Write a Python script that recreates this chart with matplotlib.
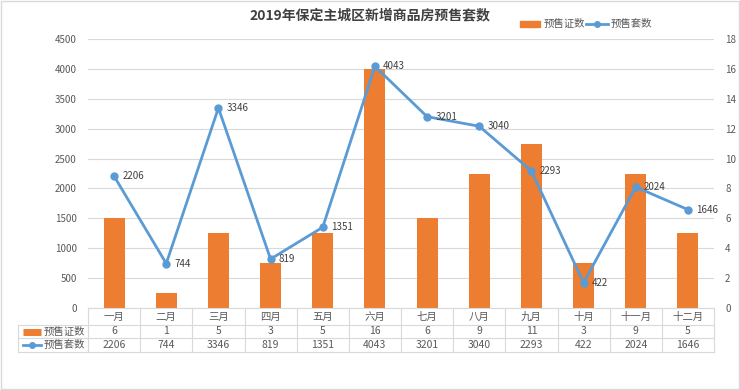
import matplotlib.pyplot as plt
import matplotlib.transforms as mtransforms

plt.rcParams['font.family'] = ['Noto Sans CJK SC', 'DejaVu Sans']

# 数据
months = ["一月", "二月", "三月", "四月", "五月", "六月", "七月", "八月", "九月", "十月", "十一月", "十二月"]
permits = [6, 1, 5, 3, 5, 16, 6, 9, 11, 3, 9, 5]
units = [2206, 744, 3346, 819, 1351, 4043, 3201, 3040, 2293, 422, 2024, 1646]

bar_color = "#ED7D31"
line_color = "#5B9BD5"
grid_color = "#D9D9D9"
text_color = "#595959"

fig = plt.figure(figsize=(7.4, 3.9), dpi=100)
ax = fig.add_axes([88 / 740, 1 - 308 / 390, 626 / 740, 269 / 390])
ax2 = ax.twinx()

x = list(range(len(months)))

# 柱：预售证数（右轴）
ax2.bar(x, permits, width=0.4, color=bar_color, zorder=2)
ax2.set_ylim(0, 18)
ax2.set_yticks(range(0, 19, 2))

# 线：预售套数（左轴）
ax.set_zorder(ax2.get_zorder() + 1)
ax.patch.set_visible(False)
ax.plot(x, units, color=line_color, lw=2, marker="o", ms=5, zorder=3)
for xi, v in zip(x, units):
    ax.annotate(str(v), (xi, v), xytext=(6, 0), textcoords="offset points",
                va="center", ha="left", fontsize=7, color="#404040")
ax.set_ylim(0, 4500)
ax.set_yticks(range(0, 4501, 500))
ax.set_xlim(-0.5, len(months) - 0.5)
ax.set_xticks([])

for a in (ax, ax2):
    for s in a.spines.values():
        s.set_visible(False)
    a.tick_params(length=0, labelsize=7, colors=text_color, pad=8)
ax2.set_xticks([])
ax2.set_xlim(-0.5, len(months) - 0.5)
ax2.yaxis.grid(True, color=grid_color, lw=0.8, zorder=0)
ax2.set_axisbelow(True)

# 数据表
tr = mtransforms.blended_transform_factory(ax.transData, ax.transAxes)
y0, y1, y2, y3 = 0.0, -17 / 269, -30 / 269, -44 / 269
xl = -1.842
lkw = dict(color=grid_color, lw=0.8, transform=tr, clip_on=False)
ax.plot([-0.5, 11.5], [y0, y0], **lkw)
ax.plot([xl, 11.5], [y1, y1], **lkw)
ax.plot([xl, 11.5], [y2, y2], **lkw)
ax.plot([xl, 11.5], [y3, y3], **lkw)
ax.plot([xl, xl], [y1, y3], **lkw)
for i in range(len(months) + 1):
    ax.plot([i - 0.5, i - 0.5], [y0, y3], **lkw)
for i, m in enumerate(months):
    ax.text(i, (y0 + y1) / 2, m, transform=tr, ha="center", va="center",
            fontsize=7.5, color=text_color, clip_on=False)
    ax.text(i, (y1 + y2) / 2, str(permits[i]), transform=tr, ha="center", va="center",
            fontsize=7.5, color=text_color, clip_on=False)
    ax.text(i, (y2 + y3) / 2, str(units[i]), transform=tr, ha="center", va="center",
            fontsize=7.5, color=text_color, clip_on=False)

# 表格图例
ax.plot([xl + 0.1, xl + 0.45], [(y1 + y2) / 2] * 2, color=bar_color, lw=5,
        solid_capstyle="butt", transform=tr, clip_on=False)
ax.plot([xl + 0.1, xl + 0.45], [(y2 + y3) / 2] * 2, color=line_color, lw=2,
        transform=tr, clip_on=False)
ax.plot([xl + 0.275], [(y2 + y3) / 2], color=line_color, marker="o", ms=4,
        transform=tr, clip_on=False)
ax.text(xl + 0.5, (y1 + y2) / 2, "预售证数", transform=tr, ha="left", va="center",
        fontsize=7.5, color=text_color, clip_on=False)
ax.text(xl + 0.5, (y2 + y3) / 2, "预售套数", transform=tr, ha="left", va="center",
        fontsize=7.5, color=text_color, clip_on=False)

# 标题和图例
fig.text(0.5, 1 - 15 / 390, "2019年保定主城区新增商品房预售套数", ha="center", va="center",
         fontsize=10, fontweight="bold", color="#404040")
fig.patches.append(plt.Rectangle((520 / 740, 1 - 27 / 390), 20 / 740, 6 / 390,
                                 color=bar_color, transform=fig.transFigure))
fig.text(544 / 740, 1 - 24 / 390, "预售证数", ha="left", va="center", fontsize=7.5, color=text_color)
fig.add_artist(plt.Line2D([586 / 740, 608 / 740], [1 - 24 / 390] * 2, color=line_color, lw=2,
                          marker=None, transform=fig.transFigure))
fig.add_artist(plt.Line2D([597 / 740], [1 - 24 / 390], color=line_color, marker="o", ms=4,
                          transform=fig.transFigure))
fig.text(611 / 740, 1 - 24 / 390, "预售套数", ha="left", va="center", fontsize=7.5, color=text_color)

# 外框
fig.patches.append(plt.Rectangle((0.002, 0.003), 0.996, 0.994, fill=False, ec="#D9D9D9",
                                 lw=1, transform=fig.transFigure))

fig.savefig("out.png", dpi=100)
